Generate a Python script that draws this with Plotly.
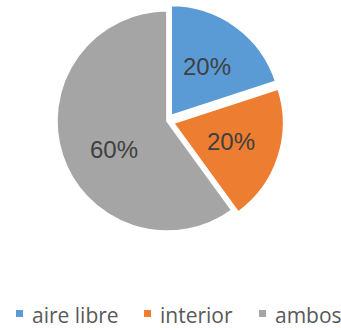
import math
import plotly.graph_objects as go

labels = ["aire libre", "interior", "ambos"]
values = [20, 20, 60]
colors = ["#5B9BD5", "#ED7D31", "#A5A5A5"]
pulls = [0.06, 0.06, 0]
label_turn = [0, 0, -10]          # degrees nudged along the arc for each % label
legend_text_x = [31, 159, 274]    # px, left edge of each legend entry's text

W, H = 341, 330
dom_x = [0.147, 0.833]
dom_y = [0.279, 0.988]

fig = go.Figure(go.Pie(
    labels=labels,
    values=values,
    sort=False,
    direction="clockwise",
    rotation=0,
    pull=pulls,
    marker=dict(colors=colors, line=dict(color="white", width=2)),
    textinfo="none",
    domain=dict(x=dom_x, y=dom_y),
    hoverinfo="skip",
    showlegend=False,
))

# percentage labels placed along each slice's bisector
cx = (dom_x[0] + dom_x[1]) / 2 * W
cy = (dom_y[0] + dom_y[1]) / 2 * H
r = min((dom_x[1] - dom_x[0]) * W, (dom_y[1] - dom_y[0]) * H) / (2 * (1 + max(pulls)))
total = sum(values)
cum = 0
for v, p, turn in zip(values, pulls, label_turn):
    mid = 2 * math.pi * (cum + v / 2) / total + math.radians(turn)
    cum += v
    d = r * (0.55 + p)
    px = cx + d * math.sin(mid)
    py = cy + d * math.cos(mid)
    fig.add_annotation(
        x=px / W, y=py / H, xref="paper", yref="paper",
        text=f"{round(100 * v / total)}%", showarrow=False,
        xanchor="center", yanchor="middle",
        font=dict(family="Liberation Sans, Arial, sans-serif", size=24, color="#404040"),
    )

# legend row: small colour square followed by the category name
sq = 7
leg_mid = 313.5
for name, col, tx in zip(labels, colors, legend_text_x):
    x0 = tx - 15
    fig.add_shape(
        type="rect", xref="paper", yref="paper",
        x0=x0 / W, x1=(x0 + sq) / W,
        y0=1 - (leg_mid + sq / 2) / H, y1=1 - (leg_mid - sq / 2) / H,
        fillcolor=col, line=dict(width=0),
    )
    fig.add_annotation(
        x=tx / W, y=0, xref="paper", yref="paper",
        text=name, showarrow=False, xanchor="left", yanchor="bottom",
        borderpad=0,
        font=dict(family="Open Sans, sans-serif", size=21, color="#595959"),
    )

fig.update_layout(
    width=W,
    height=H,
    margin=dict(l=0, r=0, t=0, b=0),
    paper_bgcolor="white",
    plot_bgcolor="white",
    showlegend=False,
)

fig.write_html("out.html")
